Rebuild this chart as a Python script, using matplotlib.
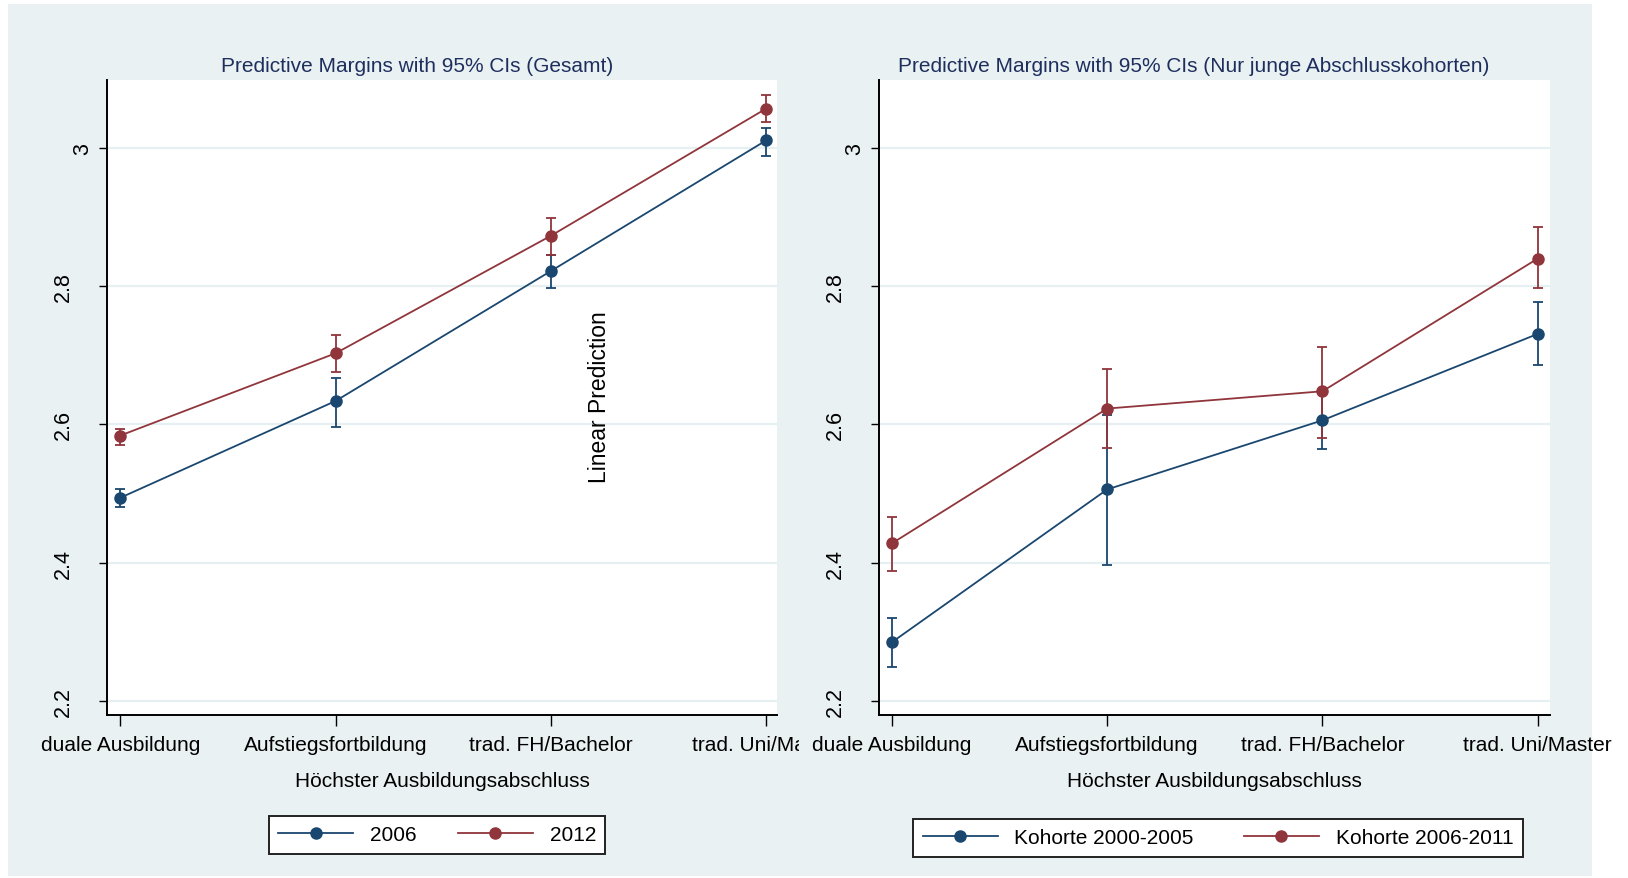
import matplotlib
matplotlib.use("Agg")
import matplotlib.pyplot as plt
from matplotlib.patches import Rectangle
from matplotlib.transforms import Bbox, TransformedBbox, blended_transform_factory, offset_copy
from matplotlib.lines import Line2D

plt.rcParams["font.family"] = ["Liberation Sans", "DejaVu Sans"]

# ---- data -------------------------------------------------------------
categories = ["duale Ausbildung", "Aufstiegsfortbildung",
              "trad. FH/Bachelor", "trad. Uni/Master"]
y_ticks = [2.2, 2.4, 2.6, 2.8, 3.0]
y_tick_labels = ["2.2", "2.4", "2.6", "2.8", "3"]

# Panel 1: all graduates, survey years
gesamt_2006 = [2.494, 2.634, 2.822, 3.011]
gesamt_2006_lo = [2.481, 2.597, 2.798, 2.988]
gesamt_2006_hi = [2.506, 2.667, 2.845, 3.029]
gesamt_2012 = [2.584, 2.703, 2.873, 3.057]
gesamt_2012_lo = [2.570, 2.676, 2.845, 3.037]
gesamt_2012_hi = [2.593, 2.730, 2.899, 3.077]

# Panel 2: young graduation cohorts only
kohorte_0005 = [2.285, 2.506, 2.606, 2.731]
kohorte_0005_lo = [2.249, 2.397, 2.564, 2.686]
kohorte_0005_hi = [2.320, 2.613, 2.648, 2.777]
kohorte_0611 = [2.428, 2.623, 2.648, 2.840]
kohorte_0611_lo = [2.388, 2.566, 2.580, 2.798]
kohorte_0611_hi = [2.466, 2.680, 2.712, 2.885]

# ---- style ------------------------------------------------------------
NAVY = "#1A476F"
MAROON = "#90353B"
BG = "#EAF1F3"
GRID = "#E6EFF1"
TITLE = "#1E2F5E"
FS = 15

W, H = 1628, 879
fig = plt.figure(figsize=(W / 100, H / 100), dpi=100, facecolor="white")
fig.patches.append(Rectangle((8 / W, 2 / H), (1592 - 8) / W, (877 - 5) / H,
                             transform=fig.transFigure, facecolor=BG,
                             edgecolor="none", zorder=-10))

def panel(left_px, right_px, xlim, title, title_x, series, legend_center,
          colspace, clip_right=None):
    ax = fig.add_axes([left_px / W, 1 - 716 / H, (right_px - left_px) / W,
                       (716 - 81) / H])
    ax.set_facecolor("white")
    x = list(range(1, len(categories) + 1))
    handles = []
    for vals, lo, hi, color, label in series:
        err = [[v - l for v, l in zip(vals, lo)], [h - v for v, h in zip(vals, hi)]]
        ax.errorbar(x, vals, yerr=err, fmt="none", ecolor=color, elinewidth=1.3,
                    capsize=3.5, capthick=1.3, zorder=3)
        ax.plot(x, vals, color=color, lw=1.3, zorder=4)
        ax.plot(x, vals, "o", color=color, ms=8, mec=color, zorder=5)
        handles.append(Line2D([], [], color=color, lw=1.3, marker="o", ms=8,
                              label=label))
    ax.set_xlim(*xlim)
    ax.set_ylim(2.1797, 3.0983)
    ax.set_yticks(y_ticks)
    ax.set_yticklabels([])
    ax.yaxis.grid(True, color=GRID, lw=1.6)
    ax.set_axisbelow(True)
    ax.tick_params(axis="y", length=6, width=1, color="black")
    ax.tick_params(axis="x", length=8, width=1, color="black", pad=6.5,
                   labelsize=FS)
    ax.set_xticks(x, categories)
    trans = blended_transform_factory(ax.transAxes, ax.transData)
    for val, lab in zip(y_ticks, y_tick_labels):
        tt = offset_copy(trans, fig=fig, x=-(14 + 10 * len(lab)) * 0.72,
                         y=0, units="points")
        ax.text(0, val, lab, transform=tt, rotation=90, ha="center",
                va="center", fontsize=15.5)
    for side in ("top", "right"):
        ax.spines[side].set_visible(False)
    for side in ("left", "bottom"):
        ax.spines[side].set_linewidth(1.4)
        ax.spines[side].set_color("black")
    ax.set_xlabel("Höchster Ausbildungsabschluss", fontsize=FS, labelpad=12)
    fig.text(title_x / W, 1 - 66 / H, title, ha="center", va="center",
             fontsize=FS, color=TITLE)
    if clip_right is not None:
        box = TransformedBbox(Bbox([[0, 0], [clip_right / W, 1]]), fig.transFigure)
        for lbl in ax.get_xticklabels():
            lbl.set_clip_on(True)
            lbl.set_clip_box(box)
    leg = ax.legend(handles=handles, ncol=2, loc="center",
                    bbox_to_anchor=(legend_center[0] / W, 1 - legend_center[1] / H),
                    bbox_transform=fig.transFigure, fontsize=FS, frameon=True,
                    fancybox=False, edgecolor="#222222", framealpha=1,
                    numpoints=1, handlelength=3.6, handletextpad=0.8,
                    columnspacing=colspace, borderpad=0.45)
    leg.get_frame().set_linewidth(1.4)
    return ax

ax1 = panel(107, 777, (0.938, 4.05),
            "Predictive Margins with 95% CIs (Gesamt)", 417,
            [(gesamt_2006, gesamt_2006_lo, gesamt_2006_hi, NAVY, "2006"),
             (gesamt_2012, gesamt_2012_lo, gesamt_2012_hi, MAROON, "2012")],
            (437, 836), 2.0, clip_right=799)

ax2 = panel(879, 1550, (0.94, 4.057),
            "Predictive Margins with 95% CIs (Nur junge Abschlusskohorten)", 1194,
            [(kohorte_0005, kohorte_0005_lo, kohorte_0005_hi, NAVY, "Kohorte 2000-2005"),
             (kohorte_0611, kohorte_0611_lo, kohorte_0611_hi, MAROON, "Kohorte 2006-2011")],
            (1218, 839), 2.4)

fig.text(600 / W, 1 - 397 / H, "Linear Prediction", rotation=90, ha="center",
         va="center", fontsize=16.5)

fig.savefig("out.png", dpi=100, facecolor="white")
